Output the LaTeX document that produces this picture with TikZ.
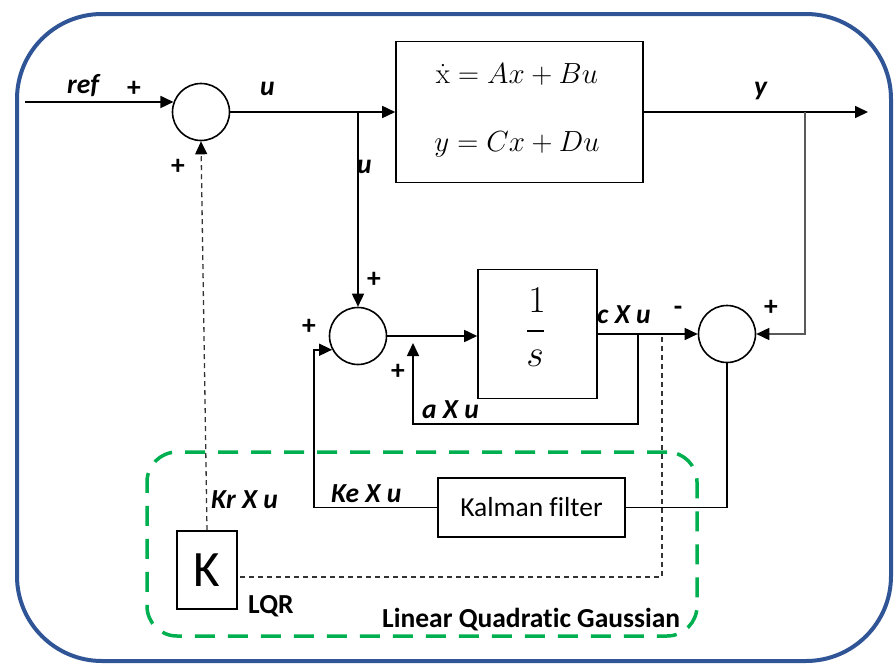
\documentclass[tikz,border=0pt]{standalone}
\usepackage[no-math]{fontspec}
\setmainfont{Carlito}[Ligatures=NoCommon]
\usetikzlibrary{arrows.meta,calc}
\definecolor{frameblue}{RGB}{47,85,151}
\definecolor{lqggreen}{RGB}{0,176,80}
\begin{document}
\begin{tikzpicture}[x=1pt,y=-1pt,
  ln/.style={line width=1.6pt},
  arr/.style={ln,-{Triangle[length=13pt,width=12pt]}},
  dsh/.style={line width=1.3pt,dash pattern=on 5pt off 4pt,draw=black!80},
  sumc/.style={circle,draw,line width=1.6pt,minimum size=57pt,inner sep=0},
  blk/.style={rectangle,draw,line width=1.6pt,inner sep=0},
  lb/.style={inner sep=0,anchor=base west,font=\fontsize{27.5}{31}\selectfont\bfseries\itshape},
  lbu/.style={inner sep=0,anchor=base west,font=\fontsize{27.5}{31}\selectfont\bfseries},
  pl/.style={inner sep=0,font=\fontsize{27.5}{31}\selectfont\bfseries},
  eq/.style={inner sep=0,font=\fontsize{24.88}{30}\selectfont,scale=1.17},
]
\useasboundingbox (0,0) rectangle (894,664);
% outer frame
\draw[frameblue,line width=4pt,rounded corners=85pt] (17,14) rectangle (891,661);
% LQG group
\node[draw=lqggreen,line width=3.5pt,dash pattern=on 20pt off 13pt,rounded corners=30pt,
      minimum width=550pt,minimum height=184pt,inner sep=0] (lqg) at (422,544) {};

% blocks
\node[sumc] (c1) at (201,112) {};
\node[blk,minimum width=247pt,minimum height=141pt] (sys) at (519.5,112) {};
\node[eq] (eq1) at (517,74) {$\dot{\mathrm{x}} = Ax + Bu$};
\node[eq] (eq2) at (517,144) {$y = Cx + Du$};
\node[sumc] (c2) at (358,336) {};
\node[blk,minimum width=119pt,minimum height=129pt] (integ) at (537.5,334) {};
\node[eq,scale=1.3] (one) at (537,300) {$1$};
\draw[line width=1.3pt] (527,331) -- (544,331);
\node[eq,scale=1.3] (ess) at (535,358) {$s$};
\node[sumc] (c3) at (727,334) {};
\node[blk,minimum width=187pt,minimum height=59pt,font=\fontsize{27.5}{31}\selectfont] (kal) at (531.5,507.5) {Kalman filter};
\node[blk,minimum width=60pt,minimum height=78pt,font=\fontsize{51}{55}\selectfont] (K) at (207,570) {K};

% coordinates
\coordinate (in) at (25,103);
\coordinate (ub) at (358,112);
\coordinate (yout) at (868,112);
\coordinate (yb) at (805,112);
\coordinate (ab) at (638,334);
\coordinate (atip) at (413,343);
\coordinate (dtop) at (662,337);

% connectors
\draw[arr] (in |- c1.160) -- (c1.160);
\draw[arr] (c1.east) -- (c1.east -| sys.west);
\draw[arr] (ub) -- (c2.north);
\draw[arr] (sys.east) -- (yout);
\draw[ln,draw=black!65,-{Triangle[length=13pt,width=12pt,color=black]}] (yb) |- (c3.east);
\draw[arr] (c2.east) -- (c2.east -| integ.west);
\draw[arr] (integ.east) -- (c3.west);
\draw[arr] (ab) -- ++(0,90) -| (atip);
\draw[ln] (c3.south) |- (kal.east);
\draw[arr] (kal.west) -| ($(c2.208)+(-18,0)$) -- (c2.208);
\draw[dsh] (dtop) |- ([yshift=-7pt]K.east);
\draw[dsh,-{Triangle[length=13pt,width=12pt,color=black]}] (K.north) -- (c1.south);

% labels
\node[lb] (lref) at (67,93) {ref};
\node[pl] (p1) at (134,89) {+};
\node[pl] (p2) at (178,167) {+};
\node[lb] (lu1) at (260,95) {u};
\node[lb] (ly) at (754,95) {y};
\node[lb] (lu2) at (357,173) {u};
\node[pl] (p3) at (374,280) {+};
\node[pl] (p4) at (309,327) {+};
\node[pl] (p5) at (398,372) {+};
\node[lb] (lcu) at (597,323) {c X u};
\node[pl] (pm) at (678,311) {-};
\node[pl] (p6) at (771,308) {+};
\node[lb] (lau) at (422,418) {a X u};
\node[lb] (lkr) at (211,508) {Kr X u};
\node[lb] (lke) at (331,502) {Ke X u};
\node[lbu] (llqr) at (248,613) {LQR};
\node[lbu] (llqg) at (382,627) {Linear Quadratic Gaussian};
\end{tikzpicture}
\end{document}
